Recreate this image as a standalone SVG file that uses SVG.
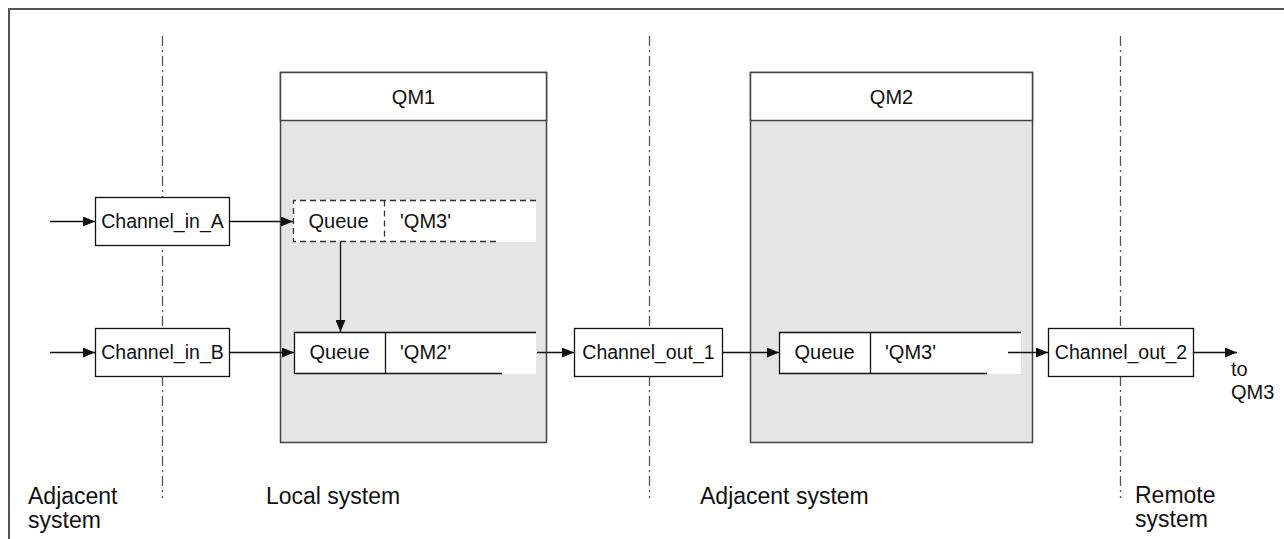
<svg xmlns="http://www.w3.org/2000/svg" width="1284" height="539" viewBox="0 0 1284 539">
<defs>
<style>
text{font-family:"Liberation Sans",Arial,sans-serif;font-size:19.5px;fill:#111}
.mid{text-anchor:middle}
.q{font-size:20px}
.lbl{font-size:23px}
.frame{fill:none;stroke:#555;stroke-width:2}
.sep{fill:none;stroke:#555;stroke-width:1.3;stroke-dasharray:10,4,2,4}
.qm{stroke:#444;stroke-width:1.5}
.box{fill:#fff;stroke:#111;stroke-width:1.3}
.ln{fill:none;stroke:#111;stroke-width:1.3}
.dash{fill:none;stroke:#333;stroke-width:1.3;stroke-dasharray:6,4}
.arr{fill:none;stroke:#111;stroke-width:1.3;marker-end:url(#ah)}
</style>
<marker id="ah" markerUnits="userSpaceOnUse" markerWidth="13" markerHeight="10" refX="12" refY="5" orient="auto">
<path d="M0,0 L12,5 L0,10 z" fill="#111"/>
</marker>
</defs>
<rect x="0" y="0" width="1284" height="539" fill="#fff"/>
<rect class="frame" x="9" y="9" width="1300" height="600"/>
<g id="separators">
<line class="sep" x1="162.5" y1="36" x2="162.5" y2="498"/>
<line class="sep" x1="649.5" y1="36" x2="649.5" y2="498"/>
<line class="sep" x1="1120.5" y1="36" x2="1120.5" y2="498"/>
</g>
<g id="QM1">
<rect class="qm" x="280.5" y="72.5" width="266" height="370" fill="#e5e5e5"/>
<rect class="qm" x="280.5" y="72.5" width="266" height="48" fill="#fff"/>
<text class="mid q" x="413.5" y="104">QM1</text>
</g>
<g id="QM2">
<rect class="qm" x="750.5" y="72.5" width="282" height="370" fill="#e5e5e5"/>
<rect class="qm" x="750.5" y="72.5" width="282" height="48" fill="#fff"/>
<text class="mid q" x="891.5" y="104">QM2</text>
</g>
<g id="queue_qm3_alias">
<rect x="293" y="200" width="243" height="42" fill="#fff"/>
<path class="dash" d="M536,200.5 H293.5 V241.5 H500 M384.5,200.5 V241.5"/>
<text class="mid q" x="338.5" y="228">Queue</text>
<text class="q" x="400" y="228">'QM3'</text>
</g>
<g id="queue_qm2">
<rect x="294" y="332" width="242" height="42" fill="#fff"/>
<path class="ln" d="M536,332.5 H294.5 V373.5 H502 M385.5,332.5 V373.5"/>
<text class="mid q" x="339.5" y="359">Queue</text>
<text class="q" x="400" y="359">'QM2'</text>
</g>
<g id="queue_qm3">
<rect x="779" y="332" width="242" height="42" fill="#fff"/>
<path class="ln" d="M1021,332.5 H779.5 V373.5 H987 M870.5,332.5 V373.5"/>
<text class="mid q" x="824.5" y="359">Queue</text>
<text class="q" x="885" y="359">'QM3'</text>
</g>
<g id="channel_in_A">
<rect class="box" x="95.5" y="197.5" width="134" height="48"/>
<text class="mid" x="162.5" y="228">Channel_in_A</text>
</g>
<g id="channel_in_B">
<rect class="box" x="95.5" y="328.5" width="134" height="48"/>
<text class="mid" x="162.5" y="359">Channel_in_B</text>
</g>
<g id="channel_out_1">
<rect class="box" x="574.5" y="328.5" width="148" height="48"/>
<text class="mid" x="648.5" y="359">Channel_out_1</text>
</g>
<g id="channel_out_2">
<rect class="box" x="1048.5" y="328.5" width="145" height="48"/>
<text class="mid" x="1121" y="359">Channel_out_2</text>
</g>
<g id="connectors">
<line class="arr" x1="50" y1="221.5" x2="95" y2="221.5"/>
<line class="arr" x1="50" y1="352.5" x2="95" y2="352.5"/>
<line class="arr" x1="229.5" y1="221.5" x2="293" y2="221.5"/>
<line class="arr" x1="229.5" y1="352.5" x2="294" y2="352.5"/>
<line class="arr" x1="340.5" y1="242" x2="340.5" y2="332"/>
<line class="arr" x1="537" y1="352.5" x2="574" y2="352.5"/>
<line class="arr" x1="722.5" y1="352.5" x2="779" y2="352.5"/>
<line class="arr" x1="1008" y1="352.5" x2="1048" y2="352.5"/>
<line class="arr" x1="1193.5" y1="352.5" x2="1237" y2="352.5"/>
</g>
<g id="labels">
<text class="q" x="1231" y="376">to</text>
<text class="q" x="1231" y="399">QM3</text>
<text class="lbl" x="28" y="504">Adjacent</text>
<text class="lbl" x="28" y="528">system</text>
<text class="lbl" x="266" y="504">Local system</text>
<text class="lbl" x="700" y="504">Adjacent system</text>
<text class="lbl" x="1135" y="503">Remote</text>
<text class="lbl" x="1135" y="527">system</text>
</g>
</svg>
